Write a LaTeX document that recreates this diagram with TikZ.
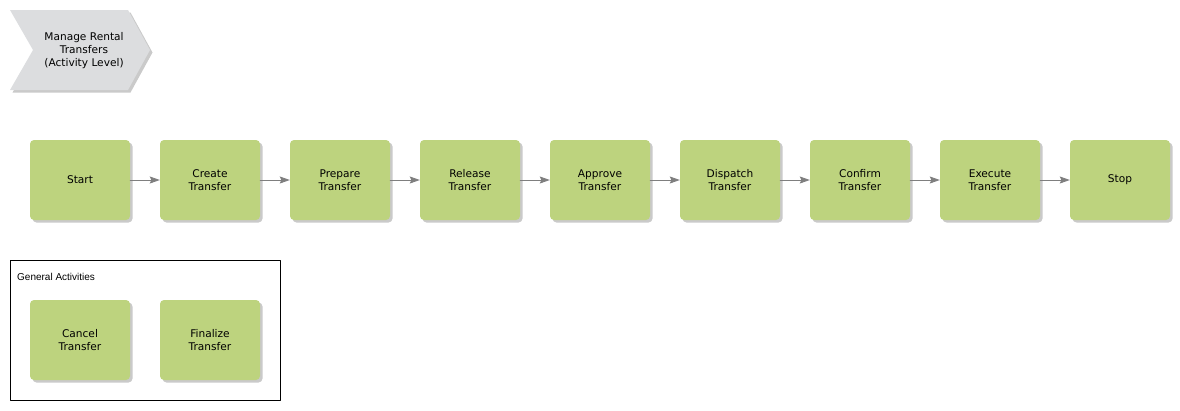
\documentclass[tikz,border=0pt]{standalone}
\usepackage{fontspec}
\setmainfont{DejaVu Sans}
\newfontfamily\labelfont{Liberation Sans}
\usetikzlibrary{shadows,arrows.meta}
\definecolor{actgreen}{HTML}{BDD37E}
\definecolor{chevgray}{HTML}{DCDDDF}
\definecolor{arrowgray}{HTML}{7F7F7F}
\tikzset{
  actbox/.style={draw=none,fill=actgreen,rounded corners=4pt,minimum width=100pt,minimum height=80pt,
    align=center,inner sep=0pt,
    drop shadow={shadow xshift=2.5pt,shadow yshift=-2.5pt,opacity=.35,fill=black!60}},
  flow/.style={->,draw=arrowgray,fill=arrowgray,line width=.9pt},
}
\begin{document}
\begin{tikzpicture}[x=1pt,y=-1pt,line cap=round,line join=round,>={Stealth[length=10pt,width=7pt,inset=1.5pt]},font=\fontsize{10.6}{13}\selectfont]
			\useasboundingbox (0,0) rectangle (1180,410);
			% process chevron
			\fill[black!60,opacity=.35] (12.5,12.5) -- (130.5,12.5) -- (152.5,52.5) -- (130.5,92.5) -- (12.5,92.5) -- (35.5,52.5) -- cycle;
			\fill[chevgray] (10,10) -- (128,10) -- (150,50) -- (128,90) -- (10,90) -- (33,50) -- cycle;
			\node[align=center] (proc) at (84,51) {Manage Rental\\Transfers\\(Activity Level)};
			% activity chain
			\foreach \n/\t [count=\i from 0] in {start/Start,create/Create\\Transfer,prepare/Prepare\\Transfer,
				release/Release\\Transfer,approve/Approve\\Transfer,dispatch/Dispatch\\Transfer,
				confirm/Confirm\\Transfer,execute/Execute\\Transfer,stop/Stop}
				\node[actbox] (\n) at (80+130*\i,180) {\t};
			\foreach \a/\b in {start/create,create/prepare,prepare/release,release/approve,
				approve/dispatch,dispatch/confirm,confirm/execute,execute/stop}
				\draw[flow] (\a) -- (\b);
			% general activities
			\node[draw=black,line width=.8pt,minimum width=270pt,minimum height=140pt,inner sep=0pt] (general) at (145,330) {};
			\node[anchor=west,font=\labelfont\fontsize{10}{12}\selectfont,inner sep=0pt] (generallbl) at (17,277) {General Activities};
			\node[actbox] (cancel) at (80,340) {Cancel\\Transfer};
			\node[actbox] (finalize) at (210,340) {Finalize\\Transfer};
		\end{tikzpicture}
\end{document}
